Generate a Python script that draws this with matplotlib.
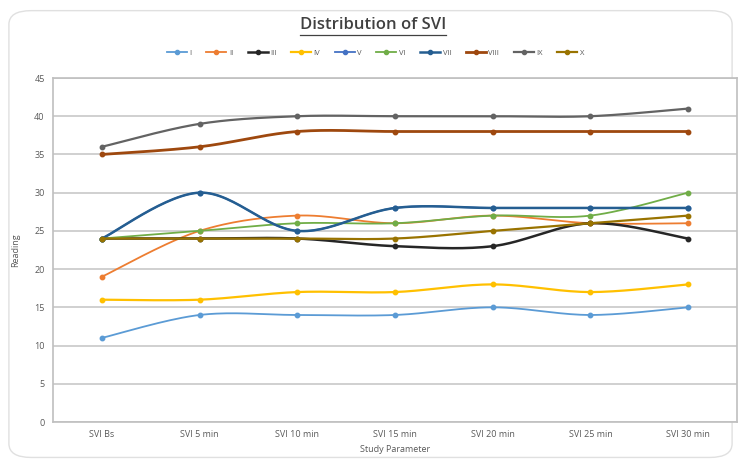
import numpy as np
import matplotlib
matplotlib.use("Agg")
import matplotlib.pyplot as plt
from matplotlib.patches import FancyBboxPatch

plt.rcParams['font.family'] = ['Open Sans', 'DejaVu Sans']

categories = ["SVI Bs", "SVI 5 min", "SVI 10 min", "SVI 15 min",
              "SVI 20 min", "SVI 25 min", "SVI 30 min"]
series_names = ["I", "II", "III", "IV", "V", "VI", "VII", "VIII", "IX", "X"]
s_I = [11, 14, 14, 14, 15, 14, 15]
s_II = [19, 25, 27, 26, 27, 26, 26]
s_III = [24, 24, 24, 23, 23, 26, 24]
s_IV = [16, 16, 17, 17, 18, 17, 18]
s_V = [24, 30, 25, 28, 28, 28, 28]
s_VI = [24, 25, 26, 26, 27, 27, 30]
s_VII = [24, 30, 25, 28, 28, 28, 28]
s_VIII = [35, 36, 38, 38, 38, 38, 38]
s_IX = [36, 39, 40, 40, 40, 40, 41]
s_X = [24, 24, 24, 24, 25, 26, 27]
series_values = [s_I, s_II, s_III, s_IV, s_V, s_VI, s_VII, s_VIII, s_IX, s_X]

colors = ["#5B9BD5", "#ED7D31", "#262626", "#FFC000", "#4472C4",
          "#70AD47", "#255E91", "#9E480E", "#636363", "#997300"]
widths = [1.3, 1.3, 1.8, 1.6, 1.3, 1.3, 1.8, 2.0, 1.6, 1.6]


def smooth(x, y, n=30):
    """Catmull-Rom style cubic Bezier through the points."""
    x = np.asarray(x, float)
    y = np.asarray(y, float)
    px = np.concatenate([[x[0]], x, [x[-1]]])
    py = np.concatenate([[y[0]], y, [y[-1]]])
    xs, ys = [], []
    t = np.linspace(0, 1, n)
    for i in range(1, len(px) - 2):
        p0 = np.array([px[i], py[i]])
        p3 = np.array([px[i + 1], py[i + 1]])
        p1 = p0 + (np.array([px[i + 1], py[i + 1]]) - np.array([px[i - 1], py[i - 1]])) / 6
        p2 = p3 - (np.array([px[i + 2], py[i + 2]]) - np.array([px[i], py[i]])) / 6
        b = ((1 - t) ** 3)[:, None] * p0 + (3 * (1 - t) ** 2 * t)[:, None] * p1 \
            + (3 * (1 - t) * t ** 2)[:, None] * p2 + (t ** 3)[:, None] * p3
        xs.append(b[:, 0])
        ys.append(b[:, 1])
    return np.concatenate(xs), np.concatenate(ys)


fig = plt.figure(figsize=(7.41, 4.63), dpi=100)
fig.patch.set_facecolor("white")

# chart frame
frame = FancyBboxPatch((0.012, 0.012), 0.976, 0.965,
                       boxstyle="round,pad=0,rounding_size=0.03",
                       transform=fig.transFigure, facecolor="white",
                       edgecolor="#e0e0e0", linewidth=1.0, zorder=-10)
fig.patches.append(frame)

ax = fig.add_axes([53 / 741, 1 - 422 / 463, (737 - 53) / 741, (422 - 78) / 463])
x = np.arange(len(categories))

for name, vals, c, w in zip(series_names, series_values, colors, widths):
    sx, sy = smooth(x, vals)
    ax.plot(sx, sy, color=c, lw=w, solid_capstyle="round")
    ax.plot(x, vals, ls="none", marker="o", ms=3.2, color=c)
    ax.plot([], [], color=c, lw=w, marker="o", ms=3, label=name)

ax.set_xlim(-0.5, len(categories) - 0.5)
ax.set_ylim(0, 45)
ax.set_yticks(np.arange(0, 46, 5))
ax.set_xticks(x)
ax.set_xticklabels(categories)
ax.grid(axis="y", color="#c8c8c8", lw=1.2)
ax.set_axisbelow(True)
for side in ["left", "bottom", "right", "top"]:
    ax.spines[side].set_color("#bfbfbf")
    ax.spines[side].set_linewidth(1.2)
ax.tick_params(length=0, labelsize=6.5, colors="#595959", pad=6)
ax.set_xlabel("Study Parameter", fontsize=6.5, color="#595959", labelpad=4)
ax.set_ylabel("Reading", fontsize=6.5, color="#595959", labelpad=10)

title = fig.text(0.503, 1 - 25 / 463, "Distribution of SVI", ha="center",
                 va="center", fontsize=12, color="#404040",
                 fontweight="semibold")
fig.canvas.draw()
bb = title.get_window_extent().transformed(fig.transFigure.inverted())
fig.add_artist(plt.Line2D([bb.x0, bb.x1], [1 - 35 / 463] * 2, color="#404040",
                          lw=0.9, transform=fig.transFigure))

fig.legend(loc="center", bbox_to_anchor=(0.507, 1 - 53 / 463), ncol=10,
           frameon=False, fontsize=5.5, handlelength=2.6, handletextpad=0.35,
           columnspacing=1.9, labelcolor="#595959")

fig.savefig("out.png", dpi=100)
